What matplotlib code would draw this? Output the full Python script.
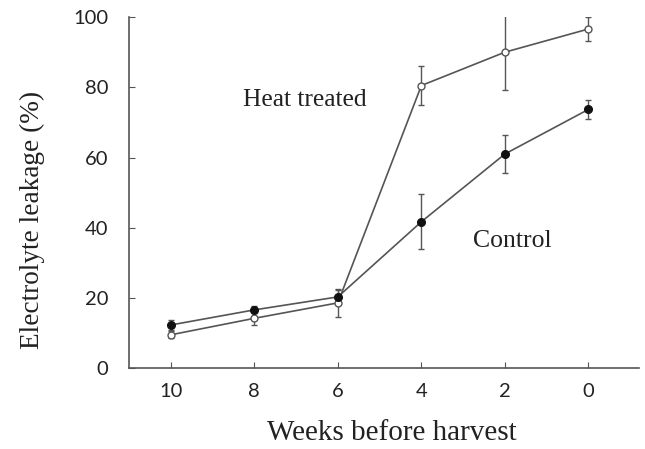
import matplotlib
matplotlib.use('Agg')
import matplotlib.pyplot as plt

# Datos
semanas = [10, 8, 6, 4, 2, 0]
tratado = [9.5, 14.2, 18.6, 80.5, 90.0, 96.6]
tratado_err = [1.0, 2.0, 4.0, 5.6, 10.7, 3.3]
control = [12.3, 16.6, 20.3, 41.7, 61.0, 73.7]
control_err = [1.5, 1.0, 2.0, 7.8, 5.3, 2.7]
ticks_y = [0, 20, 40, 60, 80, 100]

fig = plt.figure(figsize=(6.45, 4.49), dpi=100)
ax = fig.add_axes([0.2, 0.18, 0.79, 0.782])

gris = '#555555'
ax.errorbar(semanas, tratado, yerr=tratado_err, color=gris, lw=1.2, marker='o',
            ms=5, mfc='white', mec=gris, mew=1.0, ecolor=gris, elinewidth=1.0, capsize=2.5)
ax.errorbar(semanas, control, yerr=control_err, color=gris, lw=1.2, marker='o',
            ms=5.5, mfc='#111111', mec='#111111', ecolor=gris, elinewidth=1.0, capsize=2.5)

ax.set_xlim(11, -1.2)
ax.set_ylim(0, 100)
ax.set_xticks(semanas)
ax.set_yticks(ticks_y)
ax.spines['top'].set_visible(False)
ax.spines['right'].set_visible(False)
for s in ['left', 'bottom']:
    ax.spines[s].set_color(gris)
    ax.spines[s].set_linewidth(1.2)
ax.tick_params(direction='in', length=4, color=gris, labelsize=14.5)
ax.tick_params(axis='x', pad=11)
ax.tick_params(axis='y', pad=15)
for lab in ax.get_xticklabels() + ax.get_yticklabels():
    lab.set_family('Lato')
    lab.set_color('#222222')

ax.text(6.8, 76.5, 'Heat treated', family='Liberation Serif', fontsize=18.4,
        ha='center', va='center', color='#222222')
ax.text(1.82, 36.3, 'Control', family='Liberation Serif', fontsize=18.5,
        ha='center', va='center', color='#222222')

fig.text(0.608, 0.036, 'Weeks before harvest', family='Liberation Serif', fontsize=21,
         ha='center', va='center', color='#222222')
fig.text(0.051, 0.51, 'Electrolyte leakage (%)', family='Liberation Serif', fontsize=19.6,
         ha='center', va='center', rotation=90, color='#222222')

fig.savefig('out.png', dpi=100)
